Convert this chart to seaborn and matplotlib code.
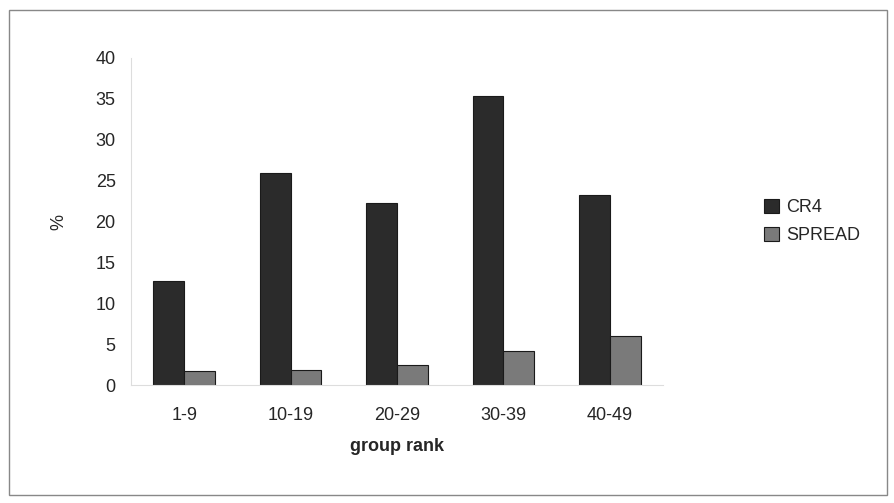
import pandas as pd
import numpy as np
import matplotlib.pyplot as plt
import seaborn as sns
from matplotlib.patches import Rectangle

sns.set_style("white")
plt.rcParams['font.family'] = ['Liberation Sans', 'DejaVu Sans']

# chart data
groups = ['1-9', '10-19', '20-29', '30-39', '40-49']
cr4 = [12.7, 25.9, 22.3, 35.3, 23.2]
spread = [1.7, 1.8, 2.5, 4.1, 6.0]

df = pd.DataFrame({
    'group rank': groups * 2,
    'value': cr4 + spread,
    'series': ['CR4'] * len(groups) + ['SPREAD'] * len(groups),
})

fig = plt.figure(figsize=(8.95, 5.03), dpi=100)
ax = fig.add_axes([131 / 895, 1 - 385 / 503, 532 / 895, 327 / 503])

sns.barplot(data=df, x='group rank', y='value', hue='series',
            palette=['#2b2b2b', '#7a7a7a'], width=0.58, ax=ax,
            edgecolor='#1a1a1a', linewidth=0.8, legend=True)

ax.set_ylim(0, 40)
ax.set_xlim(-0.5, 4.5)
ax.set_yticks(range(0, 41, 5))
ax.tick_params(axis='y', labelsize=13, length=3, color='#bbbbbb', pad=8)
ax.tick_params(axis='x', labelsize=13, length=0, pad=16)
ax.set_xticks(np.arange(-0.5, 5, 1.0), minor=True)
ax.tick_params(axis='x', which='minor', length=3, color='#bbbbbb')

for side in ['top', 'right']:
    ax.spines[side].set_visible(False)
for side in ['left', 'bottom']:
    ax.spines[side].set_color('#dddddd')
    ax.spines[side].set_linewidth(0.8)

ax.set_xlabel('group rank', fontsize=13, fontweight='bold', labelpad=10)
ax.set_ylabel('%', fontsize=13, labelpad=20)

ax.legend(loc='center left', bbox_to_anchor=(1.16, 0.5), frameon=False,
          fontsize=13, handlelength=0.8, handleheight=0.8,
          handletextpad=0.4, labelspacing=0.6)

# outer frame
fig.patches.append(Rectangle((9 / 895, 8 / 503), 878 / 895, 485 / 503,
                             transform=fig.transFigure, fill=False,
                             edgecolor='#888888', linewidth=1.0))

fig.savefig('out.png', dpi=100)
